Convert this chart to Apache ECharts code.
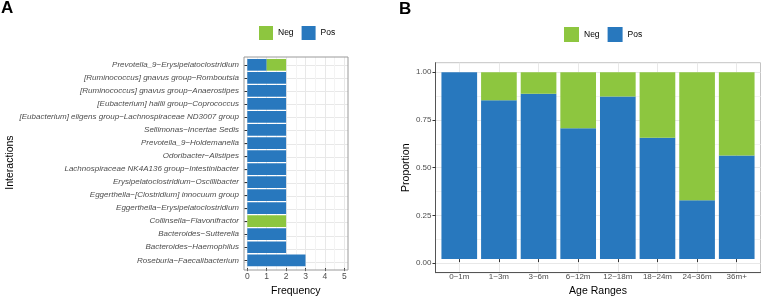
<!DOCTYPE html>
<html>
<head>
<meta charset="utf-8">
<script src="https://cdn.jsdelivr.net/npm/echarts@6/dist/echarts.min.js"></script>
<style>
  html, body { margin: 0; padding: 0; background: #fff; }
  #chart { width: 762px; height: 302px; }
</style>
</head>
<body>
<div id="chart"></div>
<script>
// panel A: interactions, top to bottom
const interactions = [
  'Prevotella_9−Erysipelatoclostridium',
  '[Ruminococcus] gnavus group−Romboutsia',
  '[Ruminococcus] gnavus group−Anaerostipes',
  '[Eubacterium] hallii group−Coprococcus',
  '[Eubacterium] eligens group−Lachnospiraceae ND3007 group',
  'Sellimonas−Incertae Sedis',
  'Prevotella_9−Holdemanella',
  'Odoribacter−Alistipes',
  'Lachnospiraceae NK4A136 group−Intestinibacter',
  'Erysipelatoclostridium−Oscillibacter',
  'Eggerthella−[Clostridium] innocuum group',
  'Eggerthella−Erysipelatoclostridium',
  'Collinsella−Flavonifractor',
  'Bacteroides−Sutterella',
  'Bacteroides−Haemophilus',
  'Roseburia−Faecalibacterium'
]
const posFreq = [1, 2, 2, 2, 2, 2, 2, 2, 2, 2, 2, 2, 0, 2, 2, 3]
const negFreq = [1, 0, 0, 0, 0, 0, 0, 0, 0, 0, 0, 0, 2, 0, 0, 0]
const freqTicks = [0, 5, 1]

// panel B: proportions per age range
const ageRanges = ['0~1m', '1~3m', '3~6m', '6~12m', '12~18m', '18~24m', '24~36m', '36m+']
const posProp = [1.0, 0.85, 0.885, 0.70, 0.87, 0.65, 0.315, 0.555]
const negProp = [0.0, 0.15, 0.115, 0.30, 0.13, 0.35, 0.685, 0.445]
const propTicks = [0, 1, 0.25]

const BLUE = '#2878be'
const GREEN = '#8dc63f'
const FONT = 'Liberation Sans'
const GRID_MAJOR = '#e8e8e8'
const GRID_MINOR = '#f3f3f3'

const myChart = echarts.init(document.getElementById('chart'))

// panel geometry (ggplot style: discrete axes padded by 0.6, continuous by 5%)
const aL = 244, aT = 57, aW = 104, aH = 213
const aU = aH / (interactions.length + 0.2)
const bL = 435.5, bT = 62.7, bW = 325, bH = 210
const bU = bW / (ageRanges.length + 0.2)
const bY0 = bT + bH * 0.05 / 1.1
const bYH = bH / 1.1

const onlySplit = function (extra) {
  return Object.assign({
    axisLine: { show: false },
    axisTick: { show: false },
    axisLabel: { show: false },
    splitLine: { show: true, lineStyle: { color: GRID_MAJOR, width: 1 } }
  }, extra)
}

const option = {
  animation: false,
  textStyle: { fontFamily: FONT },
  grid: [
    // A0 border
    { left: aL, top: aT, width: aW, height: aH, show: true, borderColor: '#9a9a9a', borderWidth: 1, z: 3 },
    // A1 bars
    { left: 247.3, top: aT + 0.1 * aU, width: 97, height: aH - 0.2 * aU },
    // A2 vertical grid lines
    { left: 247.3, top: aT, width: 97, height: aH },
    // A3 horizontal grid lines at category centres
    { left: aL, top: aT + 0.6 * aU, width: aW, height: aH - 1.2 * aU },
    // B0 y axis + horizontal grid lines
    { left: bL, top: bY0, width: bW, height: bYH },
    // B1 bars
    { left: bL + 0.1 * bU, top: bY0, width: bW - 0.2 * bU, height: bYH },
    // B2 border + axis lines
    { left: bL, top: bT, width: bW, height: bH, show: true, borderColor: '#c4c4c4', borderWidth: 1 },
    // B3 vertical grid lines at category centres
    { left: bL + 0.6 * bU, top: bT, width: bW - 1.2 * bU, height: bH }
  ],
  xAxis: [
    { gridIndex: 0, type: 'value', show: false },
    {
      gridIndex: 1,
      type: 'value',
      min: freqTicks[0],
      max: freqTicks[1],
      interval: freqTicks[2],
      offset: 1.3,
      axisLine: { show: false },
      axisTick: { show: true, length: 3, lineStyle: { color: '#333' } },
      axisLabel: { fontSize: 8.5, color: '#4d4d4d', margin: 4 },
      splitLine: { show: false },
      name: 'Frequency',
      nameLocation: 'middle',
      nameGap: 15,
      nameTextStyle: { fontSize: 10.5, color: '#000' }
    },
    onlySplit({
      gridIndex: 2,
      type: 'value',
      min: freqTicks[0],
      max: freqTicks[1],
      interval: freqTicks[2],
      minorTick: { show: false, splitNumber: 2 },
      minorSplitLine: { show: true, lineStyle: { color: GRID_MINOR, width: 1 } }
    }),
    { gridIndex: 3, type: 'value', show: false },
    { gridIndex: 4, type: 'value', show: false },
    {
      gridIndex: 5,
      type: 'category',
      data: ageRanges,
      offset: 9,
      axisLine: { show: false },
      axisTick: { show: true, alignWithLabel: true, length: 3, lineStyle: { color: '#333' } },
      axisLabel: { fontSize: 8, color: '#4d4d4d', margin: 5 },
      splitLine: { show: false },
      name: 'Age Ranges',
      nameLocation: 'middle',
      nameGap: 17,
      nameTextStyle: { fontSize: 10.5, color: '#000' }
    },
    {
      gridIndex: 6,
      type: 'value',
      axisLine: { show: true, lineStyle: { color: '#555', width: 1 } },
      axisTick: { show: false },
      axisLabel: { show: false },
      splitLine: { show: false }
    },
    onlySplit({ gridIndex: 7, type: 'value', min: 1, max: ageRanges.length, interval: 1 })
  ],
  yAxis: [
    { gridIndex: 0, type: 'value', show: false },
    {
      gridIndex: 1,
      type: 'category',
      data: interactions,
      inverse: true,
      offset: 3.3,
      axisLine: { show: false },
      axisTick: { show: true, alignWithLabel: true, length: 3, lineStyle: { color: '#333' } },
      axisLabel: { fontSize: 8, fontStyle: 'italic', color: '#4d4d4d', margin: 5 },
      splitLine: { show: false },
      name: 'Interactions',
      nameLocation: 'middle',
      nameGap: 228,
      nameTextStyle: { fontSize: 10.5, color: '#000' }
    },
    { gridIndex: 2, type: 'value', show: false },
    onlySplit({ gridIndex: 3, type: 'value', min: 1, max: interactions.length, interval: 1 }),
    {
      gridIndex: 4,
      type: 'value',
      min: propTicks[0],
      max: propTicks[1],
      interval: propTicks[2],
      axisLine: { show: false },
      axisTick: { show: true, length: 3, lineStyle: { color: '#333' } },
      axisLabel: {
        fontSize: 8,
        color: '#4d4d4d',
        margin: 4,
        formatter: function (v) { return v.toFixed(2) }
      },
      splitLine: { show: true, lineStyle: { color: GRID_MAJOR, width: 1 } },
      minorTick: { show: false, splitNumber: 2 },
      minorSplitLine: { show: true, lineStyle: { color: GRID_MINOR, width: 1 } },
      name: 'Proportion',
      nameLocation: 'middle',
      nameGap: 22,
      nameTextStyle: { fontSize: 10.5, color: '#000' }
    },
    { gridIndex: 5, type: 'value', min: 0, max: 1, show: false },
    {
      gridIndex: 6,
      type: 'value',
      axisLine: { show: true, lineStyle: { color: '#555', width: 1 } },
      axisTick: { show: false },
      axisLabel: { show: false },
      splitLine: { show: false }
    },
    { gridIndex: 7, type: 'value', show: false }
  ],
  legend: [
    {
      left: 259,
      top: 26,
      padding: 0,
      itemWidth: 14,
      itemHeight: 14,
      itemGap: 8,
      icon: 'rect',
      data: ['Neg', 'Pos'],
      textStyle: { fontSize: 8.5, color: '#000' },
      selectedMode: false
    },
    {
      left: 564,
      top: 27,
      padding: 0,
      itemWidth: 15,
      itemHeight: 15,
      itemGap: 8,
      icon: 'rect',
      data: ['Neg', 'Pos'],
      textStyle: { fontSize: 8.5, color: '#000' },
      selectedMode: false
    }
  ],
  series: [
    {
      name: 'Pos',
      type: 'bar',
      xAxisIndex: 1,
      yAxisIndex: 1,
      stack: 'freq',
      barWidth: '90%',
      itemStyle: { color: BLUE },
      data: posFreq
    },
    {
      name: 'Neg',
      type: 'bar',
      xAxisIndex: 1,
      yAxisIndex: 1,
      stack: 'freq',
      barWidth: '90%',
      itemStyle: { color: GREEN },
      data: negFreq
    },
    {
      name: 'Pos',
      type: 'bar',
      xAxisIndex: 5,
      yAxisIndex: 5,
      stack: 'prop',
      barWidth: '90%',
      itemStyle: { color: BLUE },
      data: posProp
    },
    {
      name: 'Neg',
      type: 'bar',
      xAxisIndex: 5,
      yAxisIndex: 5,
      stack: 'prop',
      barWidth: '90%',
      itemStyle: { color: GREEN },
      data: negProp
    }
  ],
  graphic: [
    { type: 'text', left: 1, top: 0, style: { text: 'A', font: 'bold 17px Liberation Sans', fill: '#000' } },
    { type: 'text', left: 399, top: 1, style: { text: 'B', font: 'bold 17px Liberation Sans', fill: '#000' } }
  ]
}

myChart.setOption(option)
</script>
</body>
</html>
